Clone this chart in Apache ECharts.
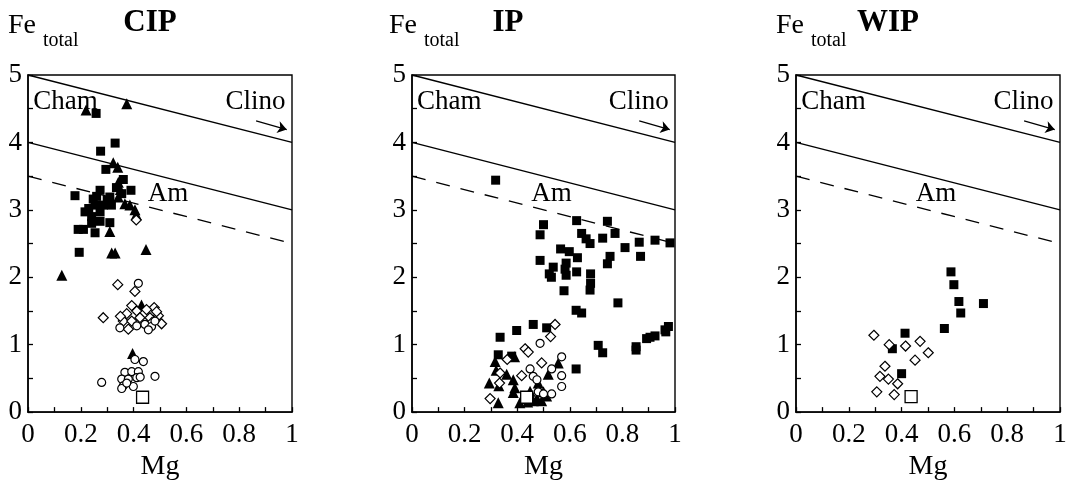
<!DOCTYPE html>
<html>
<head>
<meta charset="utf-8">
<script src="https://cdn.jsdelivr.net/npm/echarts@6/dist/echarts.min.js"></script>
<style>html,body{margin:0;padding:0;background:#fff}#c{width:1072px;height:486px}</style>
</head>
<body>
<div id="c"></div>
<script>
// ---- data ----
var panelTitles = ['CIP', 'IP', 'WIP'];
var xTickLabels = ['0', '0.2', '0.4', '0.6', '0.8', '1'];
var yTickLabels = ['0', '1', '2', '3', '4', '5'];
var chamClinoLine = [[0, 5], [1, 4]];
var clinoAmLine = [[0, 4], [1, 3]];
var dashedLine = [[0, 3.5], [1, 2.5]];
var clinoArrow = [[0.864, 4.32], [0.98, 4.19]];
var zoneNames = ['Cham', 'Clino', 'Am'];
var zonePositions = [[0.142, 4.6], [0.862, 4.6], [0.53, 3.23]];

var cipSquares = [[0.258,4.43],[0.33,3.99],[0.275,3.87],[0.295,3.6],[0.361,3.45],[0.335,3.33],[0.178,3.21],[0.273,3.29],[0.39,3.29],[0.247,3.16],[0.31,3.19],[0.355,3.24],[0.285,3.07],[0.316,3.07],[0.254,3.07],[0.216,2.97],[0.273,2.97],[0.241,2.9],[0.273,2.83],[0.31,2.81],[0.241,2.8],[0.19,2.71],[0.21,2.71],[0.254,2.66],[0.194,2.37],[0.23,3.02],[0.30,3.14],[0.26,3.2]];
var cipTriangles = [[0.22,4.48],[0.374,4.575],[0.323,3.70],[0.34,3.63],[0.342,3.41],[0.342,3.19],[0.367,3.09],[0.386,3.07],[0.405,3.0],[0.41,2.93],[0.31,2.68],[0.317,2.36],[0.33,2.36],[0.447,2.41],[0.128,2.03],[0.43,1.59],[0.396,0.87],[0.35,3.3]];
var cipDiamonds = [[0.34,1.89],[0.405,1.79],[0.285,1.40],[0.393,1.58],[0.478,1.55],[0.374,1.46],[0.412,1.50],[0.449,1.52],[0.361,1.35],[0.393,1.35],[0.424,1.40],[0.462,1.40],[0.494,1.43],[0.506,1.31],[0.38,1.23],[0.487,1.49],[0.41,2.85],[0.35,1.42],[0.47,1.33]];
var cipCircles = [[0.418,1.91],[0.348,1.25],[0.412,1.28],[0.443,1.30],[0.468,1.27],[0.481,1.35],[0.456,1.22],[0.405,0.78],[0.437,0.75],[0.367,0.59],[0.393,0.60],[0.418,0.60],[0.355,0.49],[0.38,0.49],[0.412,0.51],[0.481,0.53],[0.279,0.44],[0.361,0.39],[0.355,0.35],[0.399,0.38],[0.374,0.43],[0.425,0.52]];
var cipReference = [[0.434,0.22]];

var ipSquares = [[0.318,3.44],[0.50,2.78],[0.487,2.63],[0.626,2.84],[0.743,2.83],[0.645,2.65],[0.662,2.57],[0.677,2.50],[0.725,2.58],[0.772,2.65],[0.81,2.44],[0.864,2.52],[0.924,2.55],[0.981,2.51],[0.869,2.31],[0.565,2.42],[0.598,2.38],[0.629,2.29],[0.487,2.25],[0.537,2.15],[0.522,2.05],[0.53,2.0],[0.586,2.21],[0.582,2.12],[0.586,2.03],[0.626,2.08],[0.753,2.31],[0.743,2.20],[0.679,2.05],[0.679,1.91],[0.677,1.81],[0.578,1.80],[0.783,1.62],[0.624,1.51],[0.645,1.47],[0.708,0.99],[0.725,0.88],[0.852,0.92],[0.852,0.97],[0.892,1.09],[0.905,1.11],[0.924,1.13],[0.962,1.22],[0.975,1.27],[0.965,1.19],[0.624,0.64],[0.335,1.11],[0.398,1.21],[0.461,1.30],[0.512,1.25],[0.328,0.85],[0.379,0.83]];
var ipTriangles = [[0.316,0.75],[0.32,0.62],[0.294,0.43],[0.33,0.39],[0.36,0.56],[0.385,0.48],[0.391,0.36],[0.385,0.29],[0.328,0.14],[0.449,0.31],[0.423,0.22],[0.48,0.43],[0.518,0.56],[0.556,0.73],[0.461,0.17],[0.493,0.17],[0.512,0.24],[0.41,0.14],[0.39,0.82],[0.475,0.2],[0.44,0.15],[0.50,0.3]];
var ipDiamonds = [[0.544,1.30],[0.527,1.12],[0.43,0.94],[0.442,0.89],[0.493,0.73],[0.335,0.58],[0.417,0.54],[0.333,0.43],[0.297,0.20],[0.362,0.78]];
var ipCircles = [[0.487,1.02],[0.569,0.82],[0.449,0.64],[0.461,0.53],[0.531,0.64],[0.569,0.54],[0.569,0.38],[0.531,0.27],[0.48,0.30],[0.475,0.48],[0.50,0.27]];
var ipReference = [[0.436,0.22]];

var wipSquares = [[0.587,2.08],[0.598,1.89],[0.617,1.64],[0.624,1.47],[0.71,1.61],[0.562,1.24],[0.413,1.17],[0.365,0.94],[0.40,0.57]];
var wipTriangles = [];
var wipDiamonds = [[0.295,1.14],[0.353,1.0],[0.415,0.98],[0.47,1.05],[0.501,0.88],[0.451,0.77],[0.337,0.68],[0.318,0.53],[0.35,0.49],[0.385,0.42],[0.306,0.30],[0.372,0.26]];
var wipCircles = [];
var wipReference = [[0.436,0.23]];

// ---- layout ----
var FONT = 'Liberation Serif, Times New Roman, serif';
var gridLefts = [28, 412, 796];
var gridWidths = [264, 263, 264];
var gridTop = 75, gridHeight = 345;
var titleCenters = [150, 508, 888];
var feLefts = [8, 389, 776];

var panels = [
  {sq: cipSquares, tr: cipTriangles, di: cipDiamonds, ci: cipCircles, ref: cipReference},
  {sq: ipSquares, tr: ipTriangles, di: ipDiamonds, ci: ipCircles, ref: ipReference},
  {sq: wipSquares, tr: wipTriangles, di: wipDiamonds, ci: wipCircles, ref: wipReference}
];

var grids = [], xAxes = [], yAxes = [], series = [], titles = [], graphics = [];
for (var i = 0; i < 3; i++) {
  grids.push({left: gridLefts[i], top: gridTop, width: gridWidths[i], height: gridHeight,
    show: true, borderColor: '#000', borderWidth: 1.4, backgroundColor: 'transparent'});
  xAxes.push({type: 'value', gridIndex: i, min: 0, max: 1, interval: 0.1,
    name: 'Mg', nameLocation: 'middle', nameGap: 32,
    nameTextStyle: {fontFamily: FONT, fontSize: 28, color: '#000'},
    axisLine: {show: true, lineStyle: {color: '#000', width: 1.5}},
    axisTick: {show: true, inside: true, length: 5, lineStyle: {color: '#000', width: 1.3}},
    splitLine: {show: false},
    axisLabel: {color: '#000', fontFamily: FONT, fontSize: 27, margin: 9, showMinLabel: true, showMaxLabel: true,
      formatter: function (v) { var k = Math.round(v * 10); return k % 2 === 0 ? xTickLabels[k / 2] : ''; }}
  });
  yAxes.push({type: 'value', gridIndex: i, min: 0, max: 5, interval: 0.5,
    axisLine: {show: true, lineStyle: {color: '#000', width: 1.5}},
    axisTick: {show: true, inside: true, length: 5, lineStyle: {color: '#000', width: 1.3}},
    splitLine: {show: false},
    axisLabel: {color: '#000', fontFamily: FONT, fontSize: 27, margin: 6, showMinLabel: true, showMaxLabel: true,
      formatter: function (v) { var k = Math.round(v * 2); return k % 2 === 0 ? yTickLabels[k / 2] : ''; }}
  });
  titles.push({text: panelTitles[i], left: titleCenters[i], top: 7, textAlign: 'center', padding: 0,
    textStyle: {fontFamily: FONT, fontSize: 31, fontWeight: 'bold', color: '#000'}});
  graphics.push({type: 'text', left: feLefts[i], top: 12, style: {text: 'Fe', font: '28px ' + FONT, fill: '#000'}});
  graphics.push({type: 'text', left: feLefts[i] + 35, top: 31, style: {text: 'total', font: '20px ' + FONT, fill: '#000'}});

  var base = {xAxisIndex: i, yAxisIndex: i, animation: false, silent: true};
  series.push(Object.assign({type: 'line', data: chamClinoLine, symbol: 'none', lineStyle: {color: '#000', width: 1.4}}, base));
  series.push(Object.assign({type: 'line', data: clinoAmLine, symbol: 'none', lineStyle: {color: '#000', width: 1.4}}, base));
  series.push(Object.assign({type: 'line', data: dashedLine, symbol: 'none', lineStyle: {color: '#000', width: 1.3, type: [14, 11]}}, base));
  series.push(Object.assign({type: 'lines', coordinateSystem: 'cartesian2d', symbol: ['none', 'arrow'], symbolSize: 9,
    lineStyle: {color: '#000', width: 1.2, opacity: 1}, data: [{coords: clinoArrow}]}, base));
  series.push(Object.assign({type: 'scatter', symbolSize: 0,
    data: zoneNames.map(function (n, k) { return {name: n, value: zonePositions[k]}; }),
    itemStyle: {opacity: 1},
    label: {show: true, position: 'inside', formatter: '{b}', fontFamily: FONT, fontSize: 27, color: '#000', opacity: 1}}, base));
  var p = panels[i];
  series.push(Object.assign({type: 'scatter', data: p.sq, symbol: 'rect', symbolSize: 9, itemStyle: {color: '#000', opacity: 1}}, base));
  series.push(Object.assign({type: 'scatter', data: p.tr, symbol: 'triangle', symbolSize: 11, itemStyle: {color: '#000', opacity: 1}}, base));
  series.push(Object.assign({type: 'scatter', data: p.di, symbol: 'diamond', symbolSize: 10,
    itemStyle: {color: '#fff', borderColor: '#000', borderWidth: 1.2, opacity: 1}}, base));
  series.push(Object.assign({type: 'scatter', data: p.ci, symbol: 'circle', symbolSize: 8,
    itemStyle: {color: '#fff', borderColor: '#000', borderWidth: 1.2, opacity: 1}}, base));
  series.push(Object.assign({type: 'scatter', data: p.ref, symbol: 'rect', symbolSize: 12,
    itemStyle: {color: '#fff', borderColor: '#000', borderWidth: 1.3, opacity: 1}}, base));
}

var chart = echarts.init(document.getElementById('c'), null, {renderer: 'canvas'});
chart.setOption({
  animation: false,
  backgroundColor: '#fff',
  title: titles,
  grid: grids,
  xAxis: xAxes,
  yAxis: yAxes,
  graphic: graphics,
  series: series
});
</script>
</body>
</html>
